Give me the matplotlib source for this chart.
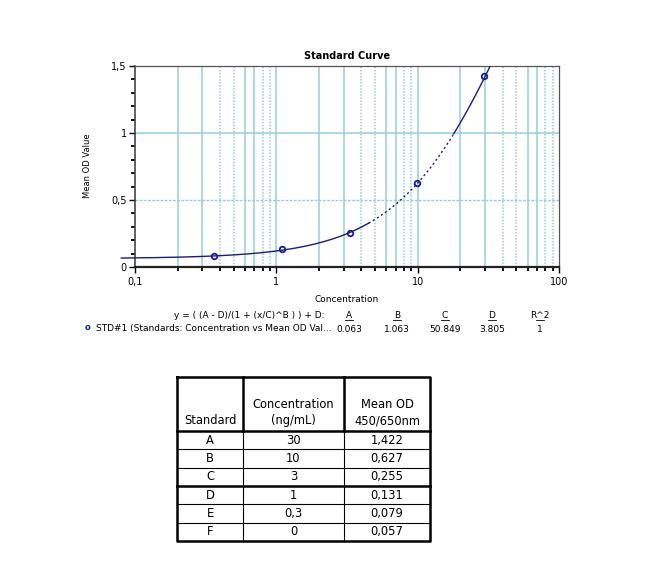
import matplotlib

matplotlib.use("Agg")

import matplotlib.pyplot as plt
import numpy as np

plt.rcParams["font.family"] = ["DejaVu Sans"]

# standards as plotted on the curve
conc_pts = [0.36, 1.1, 3.3, 9.9, 29.5]
od_pts = [0.079, 0.131, 0.255, 0.627, 1.422]

# 4PL fit parameters shown under the chart
PAR_A = 0.063
PAR_B = 1.063
PAR_C = 50.849
PAR_D = 3.805
R2 = 1

param_names = ["A", "B", "C", "D", "R^2"]
param_values = ["0.063", "1.063", "50.849", "3.805", "1"]

# table
tab_std = ["A", "B", "C", "D", "E", "F"]
tab_conc = ["30", "10", "3", "1", "0,3", "0"]
tab_od = ["1,422", "0,627", "0,255", "0,131", "0,079", "0,057"]

GRID = "#93cfd9"
NAVY = "#1c1c78"
W, H = 646, 565


def fourpl(x):
    return (PAR_A - PAR_D) / (1 + (x / PAR_C) ** PAR_B) + PAR_D


fig = plt.figure(figsize=(W / 100, H / 100), dpi=100)
fig.patch.set_facecolor("white")

ax = fig.add_axes([135 / W, 1 - 267 / H, 424 / W, 201 / H])
ax.set_xscale("log")
ax.set_xlim(0.1, 100)
ax.set_ylim(0, 1.5)

# vertical grid on every log step
for dec in [0.1, 1, 10]:
    for k in range(2, 10):
        v = dec * k
        ls = "-" if k in (2, 3, 6, 7) else (0, (1, 1))
        ax.axvline(v, color=GRID, lw=1.1, ls=ls, zorder=1)
for v in [1, 10]:
    ax.axvline(v, color=GRID, lw=1.1, zorder=1)
ax.axhline(0.5, color=GRID, lw=1.0, ls=(0, (2, 1)), zorder=1)
ax.axhline(1.0, color=GRID, lw=1.1, zorder=1)

# fitted curve
x1 = np.logspace(np.log10(0.08), np.log10(4.5), 200)
x2 = np.logspace(np.log10(4.5), np.log10(18), 100)
x3 = np.logspace(np.log10(18), np.log10(33.5), 60)
ax.plot(x1, fourpl(x1), color=NAVY, lw=1.0, clip_on=False, zorder=3)
ax.plot(x2, fourpl(x2), color=NAVY, lw=1.0, ls=(0, (1.5, 2)), zorder=3)
ax.plot(x3, fourpl(x3), color=NAVY, lw=1.0, zorder=3)
ax.plot(conc_pts, od_pts, "o", ms=4, mfc="none", mec="#1a1aa0", mew=1.3, zorder=4)

for side in ["top", "right"]:
    ax.spines[side].set_color("#555555")
    ax.spines[side].set_linestyle((0, (2, 1)))
    ax.spines[side].set_linewidth(0.9)
ax.spines["left"].set_color("#444444")
ax.spines["left"].set_linewidth(1.2)
ax.spines["bottom"].set_color("#222222")
ax.spines["bottom"].set_linestyle((0, (1, 1)))
ax.spines["bottom"].set_linewidth(1.6)

ax.set_xticks([0.1, 1, 10, 100])
ax.set_xticklabels(["0,1", "1", "10", "100"])
ax.set_yticks([0, 0.5, 1, 1.5])
ax.set_yticklabels(["0", "0,5", "1", "1,5"])
ax.set_yticks(np.arange(0, 1.51, 0.1), minor=True)
ax.tick_params(which="major", direction="out", length=4, width=1, labelsize=7, pad=2)
ax.tick_params(which="minor", direction="out", length=3, width=1.3)
ax.tick_params(axis="x", which="major", pad=3)

ax.set_title("Standard Curve", fontsize=7, fontweight="bold", pad=5)
ax.set_xlabel("Concentration", fontsize=6.5, labelpad=6)
fig.text(88 / W, 1 - 166 / H, "Mean OD Value", rotation=90, fontsize=6,
         ha="center", va="center")

# fit summary lines
fs = 6.5
fig.text(325 / W, 1 - 316 / H, "y = ( (A - D)/(1 + (x/C)^B ) ) + D:", fontsize=fs,
         ha="right", va="center")
fig.text(85 / W, 1 - 328 / H, "o", fontsize=6, color="#1a1aa0", ha="left",
         va="center", fontweight="bold")
fig.text(96 / W, 1 - 328 / H, "STD#1 (Standards: Concentration vs Mean OD Val...",
         fontsize=fs, ha="left", va="center")
col_x = [349, 397, 445, 492, 540]
for cx, name, val in zip(col_x, param_names, param_values):
    fig.text(cx / W, 1 - 315 / H, name, fontsize=fs, ha="center", va="center")
    fig.add_artist(plt.Line2D([(cx - 4) / W, (cx + 4) / W],
                              [1 - 319.5 / H, 1 - 319.5 / H], color="black", lw=0.6))
    fig.text(cx / W, 1 - 329 / H, val, fontsize=fs, ha="center", va="center")

# table drawn in pixel coordinates
tax = fig.add_axes([0, 0, 1, 1])
tax.set_xlim(0, W)
tax.set_ylim(H, 0)
tax.axis("off")
cols = [177, 243, 344, 430]
top, head_bot, bot = 377, 431, 541
row_h = (bot - head_bot) / len(tab_std)
rows = [head_bot + i * row_h for i in range(len(tab_std) + 1)]

thick, thin = 1.8, 0.8
tax.plot([cols[0], cols[-1], cols[-1], cols[0], cols[0]], [top, top, bot, bot, top],
         color="black", lw=thick)
for i, cx in enumerate(cols[1:-1]):
    tax.plot([cx, cx], [top, head_bot], color="black", lw=thick)
    tax.plot([cx, cx], [head_bot, bot], color="black", lw=thin)
for i, ry in enumerate(rows[:-1]):
    lw = thick if i in (0, 3) else thin
    tax.plot([cols[0], cols[-1]], [ry, ry], color="black", lw=lw)

tfs = 8.3
tax.text((cols[0] + cols[1]) / 2, head_bot - 4, "Standard", fontsize=tfs,
         ha="center", va="bottom")
tax.text((cols[1] + cols[2]) / 2, head_bot - 4, "Concentration\n(ng/mL)", fontsize=tfs,
         ha="center", va="bottom", linespacing=1.3)
tax.text((cols[2] + cols[3]) / 2, head_bot - 4, "Mean OD\n450/650nm", fontsize=tfs,
         ha="center", va="bottom", linespacing=1.3)
for i, (s, c, o) in enumerate(zip(tab_std, tab_conc, tab_od)):
    cy = rows[i] + row_h / 2
    tax.text((cols[0] + cols[1]) / 2, cy, s, fontsize=tfs, ha="center", va="center")
    tax.text((cols[1] + cols[2]) / 2, cy, c, fontsize=tfs, ha="center", va="center")
    tax.text((cols[2] + cols[3]) / 2, cy, o, fontsize=tfs, ha="center", va="center")

fig.savefig("out.png", dpi=100)
